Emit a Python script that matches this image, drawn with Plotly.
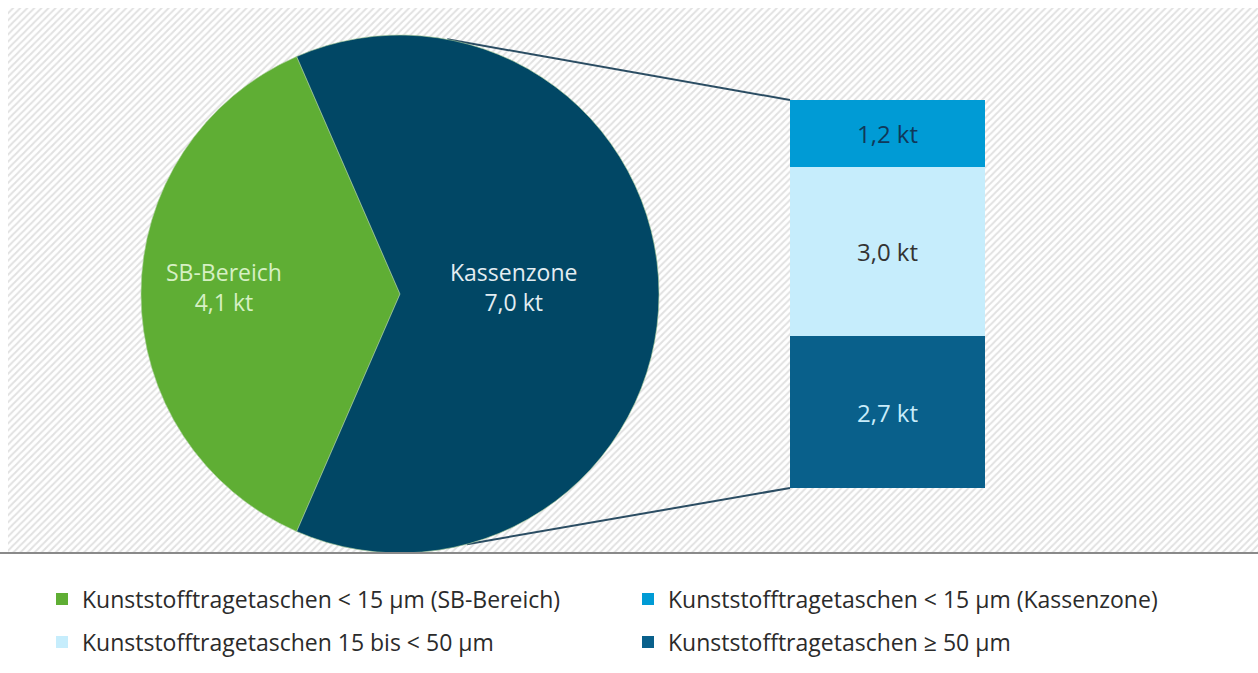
import math
import plotly.graph_objects as go

# ---- data -------------------------------------------------------------
pie_labels = ["SB-Bereich", "Kassenzone"]
pie_values = [4.1, 7.0]
pie_colors = ["#5fae34", "#014765"]
pie_text_colors = ["#d6f0c4", "#e3edf2"]

# breakdown of the Kassenzone slice, stacked bottom -> top
bar_names = [
    "Kunststofftragetaschen ≥ 50 µm",
    "Kunststofftragetaschen 15 bis < 50 µm",
    "Kunststofftragetaschen < 15 µm (Kassenzone)",
]
bar_values = [2.7, 3.0, 1.2]
bar_colors = ["#09608b", "#c6edfc", "#009bd5"]
bar_text_colors = ["#c8ecfa", "#333333", "#10385a"]
bar_legend = ["legend2", "legend2", "legend"]
bar_rank = [2, 1, 2]

green_legend_name = "Kunststofftragetaschen < 15 µm (SB-Bereich)"

# ---- layout geometry (pixels) ----------------------------------------
W, H = 1258, 673
PIE_CX, PIE_CY, PIE_R = 400, 294, 259
BAR_X0, BAR_X1 = 790, 985
BAR_Y_TOP, BAR_Y_BOT = 100, 488
BASE_Y = 553
LINE_ANG_TOP, LINE_ANG_BOT = 10.5, 165.0  # clockwise from 12 o'clock
LABEL_FRAC = [0.68, 0.44]
FONT = "Open Sans"

bar_total = sum(bar_values)


def pie_point(angle_deg, frac=1.0):
    a = math.radians(angle_deg)
    return (PIE_CX + frac * PIE_R * math.sin(a), PIE_CY - frac * PIE_R * math.cos(a))


def bar_px(value):
    return BAR_Y_BOT - value / bar_total * (BAR_Y_BOT - BAR_Y_TOP)


fig = go.Figure()

# hatched backdrop
fig.add_trace(go.Scatter(
    x=[8, W, W, 8, 8], y=[8, 8, BASE_Y, BASE_Y, 8],
    xaxis="x", yaxis="y", mode="lines", fill="toself",
    line=dict(width=0), fillcolor="rgba(0,0,0,0)",
    fillpattern=dict(shape="/", fgcolor="#c4c4c4", bgcolor="#ffffff",
                     size=5, solidity=0.4),
    hoverinfo="skip", showlegend=False,
))

# connector lines from the pie to the bar
for ang, val in [(LINE_ANG_TOP, bar_total), (LINE_ANG_BOT, 0.0)]:
    px, py = pie_point(ang)
    fig.add_trace(go.Scatter(
        x=[px, BAR_X0], y=[py, bar_px(val)], xaxis="x", yaxis="y",
        mode="lines", line=dict(color="#2b4d63", width=2),
        hoverinfo="skip", showlegend=False,
    ))

# pie
total = sum(pie_values)
sb_span = pie_values[0] / total * 360
rotation = 270 - sb_span / 2
fig.add_trace(go.Pie(
    labels=pie_labels, values=pie_values, sort=False,
    direction="clockwise", rotation=rotation,
    marker=dict(colors=pie_colors, line=dict(color="#a9cf9a", width=0.6)),
    textinfo="none", hoverinfo="label+value", showlegend=False,
    domain=dict(x=[(PIE_CX - PIE_R) / W, (PIE_CX + PIE_R) / W],
                y=[1 - (PIE_CY + PIE_R) / H, 1 - (PIE_CY - PIE_R) / H]),
))

# legend entry for the SB slice
fig.add_trace(go.Scatter(
    x=[None], y=[None], xaxis="x", yaxis="y", mode="markers",
    marker=dict(symbol="square", size=12, color=pie_colors[0]),
    name=green_legend_name, legend="legend", legendrank=1,
))

# stacked bar
for name, val, col, tcol, lg, rk in zip(bar_names, bar_values, bar_colors,
                                         bar_text_colors, bar_legend, bar_rank):
    fig.add_trace(go.Bar(
        x=["Kassenzone"], y=[val], width=[1], name=name,
        xaxis="x2", yaxis="y2", marker=dict(color=col, line=dict(width=0)),
        texttemplate="%{y:.1f} kt", textposition="inside",
        insidetextanchor="middle", constraintext="none",
        textfont=dict(family=FONT, size=24, color=tcol),
        legend=lg, legendrank=rk,
    ))

# pie labels
annotations = []
start = rotation
for lab, val, col, frac in zip(pie_labels, pie_values, pie_text_colors, LABEL_FRAC):
    span = val / total * 360
    mx, my = pie_point(start + span / 2, frac)
    start += span
    annotations.append(dict(
        x=mx / W, y=1 - my / H, xref="paper", yref="paper",
        xanchor="center", yanchor="middle", yshift=7,
        text=f"{lab}<br>{val:.1f} kt".replace(".", ","), showarrow=False,
        font=dict(family=FONT, size=23, color=col), align="center",
    ))

legend_common = dict(
    orientation="h", xanchor="left", yanchor="middle",
    entrywidth=541, entrywidthmode="pixels", traceorder="normal",
    font=dict(family=FONT, size=23, color="#2b2b2b"),
    bgcolor="rgba(0,0,0,0)", itemclick=False, itemdoubleclick=False,
)

fig.update_layout(
    width=W, height=H, margin=dict(l=0, r=0, t=0, b=0),
    paper_bgcolor="#ffffff", plot_bgcolor="rgba(0,0,0,0)",
    separators=",.", barmode="stack", bargap=0,
    font=dict(family=FONT),
    xaxis=dict(domain=[0, 1], range=[0, W], visible=False, fixedrange=True),
    yaxis=dict(domain=[0, 1], range=[H, 0], visible=False, fixedrange=True),
    xaxis2=dict(domain=[BAR_X0 / W, BAR_X1 / W], range=[-0.5, 0.5],
                visible=False, fixedrange=True, anchor="y2"),
    yaxis2=dict(domain=[1 - BAR_Y_BOT / H, 1 - BAR_Y_TOP / H],
                range=[0, bar_total], visible=False, fixedrange=True, anchor="x2"),
    legend=dict(x=42 / W, y=1 - 599 / H, **legend_common),
    legend2=dict(x=42 / W, y=1 - 642 / H, **legend_common),
    shapes=[dict(type="line", xref="paper", yref="paper", x0=0, x1=1,
                 y0=1 - BASE_Y / H, y1=1 - BASE_Y / H,
                 line=dict(color="#8a8a8a", width=2), layer="above")],
    annotations=annotations,
    showlegend=True,
)

fig.write_html("out.html")
